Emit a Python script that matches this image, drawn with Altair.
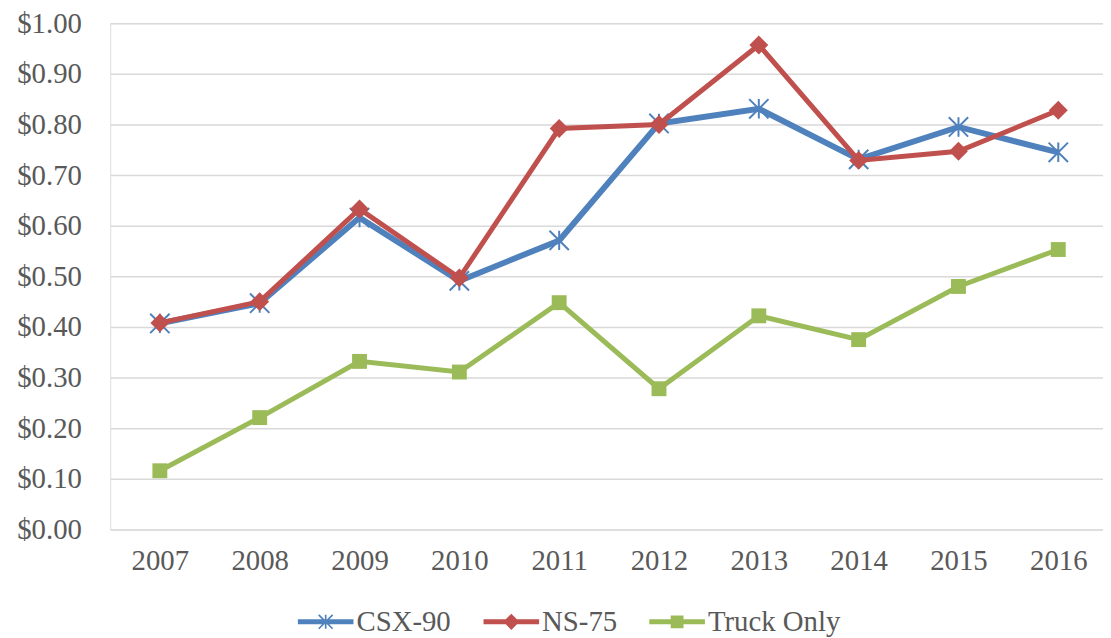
import altair as alt
import pandas as pd

years = ["2007", "2008", "2009", "2010", "2011", "2012", "2013", "2014", "2015", "2016"]
csx_90 = [0.407, 0.447, 0.616, 0.491, 0.571, 0.802, 0.831, 0.731, 0.795, 0.745]
ns_75 = [0.408, 0.450, 0.633, 0.497, 0.792, 0.800, 0.957, 0.729, 0.747, 0.828]
truck_only = [0.116, 0.221, 0.332, 0.311, 0.448, 0.278, 0.422, 0.375, 0.480, 0.553]
series_names = ["CSX-90", "NS-75", "Truck Only"]
colors = ["#4F81BD", "#C0504D", "#9BBB59"]

rows = []
for name, vals in zip(series_names, [csx_90, ns_75, truck_only]):
    for y, v in zip(years, vals):
        rows.append({"year": y, "series": name, "value": v})
df = pd.DataFrame(rows)
legend_df = pd.DataFrame({"series": series_names})

FONT = "Liberation Serif"
TXT = "#595959"

# ---- legend symbol paths (line + marker); symbol box = 56px, unit = 28px ----
def fmt(pts):
    return "M" + "L".join(f"{x:.4f},{y:.4f}" for x, y in pts) + "Z"

def bar(p1, p2, h):
    dx, dy = p2[0] - p1[0], p2[1] - p1[1]
    L = (dx * dx + dy * dy) ** 0.5
    nx, ny = dy / L * h, -dx / L * h
    return fmt([(p1[0] + nx, p1[1] + ny), (p2[0] + nx, p2[1] + ny),
                (p2[0] - nx, p2[1] - ny), (p1[0] - nx, p1[1] - ny)])

a = 0.25
line_part = fmt([(-1, -0.09), (1, -0.09), (1, 0.09), (-1, 0.09)])
ast = (bar((-a, -a), (a, a), 0.03) + bar((a, -a), (-a, a), 0.03) + bar((0, -a), (0, a), 0.03))
dia = fmt([(-0.29, 0), (0, -0.29), (0.29, 0), (0, 0.29)])
sq = fmt([(-0.23, -0.23), (0.23, -0.23), (0.23, 0.23), (-0.23, 0.23)])
legend_paths = [line_part + ast, line_part + dia, line_part + sq]

x_enc = alt.X("year:O", sort=years,
              scale=alt.Scale(type="point", padding=0.4724, align=0.526),
              axis=alt.Axis(title=None, labelAngle=0, ticks=False, domain=False,
                            labelFont=FONT, labelFontSize=29, labelColor=TXT,
                            labelPadding=17, grid=False))
y_enc = alt.Y("value:Q",
              scale=alt.Scale(domain=[0, 1], nice=False, zero=True),
              axis=alt.Axis(title=None, format="$.2f", values=[i / 10 for i in range(11)],
                            ticks=False, domain=False, labelFont=FONT, labelFontSize=29,
                            labelColor=TXT, labelPadding=29, grid=True,
                            gridColor="#D9D9D9", gridWidth=1.5))

base = alt.Chart(df).encode(x=x_enc, y=y_enc)

marker_specs = [
    dict(shape="M-1,-1L1,1M-1,1L1,-1M0,-1L0,1", filled=False, size=380, strokeWidth=2),
    dict(shape="diamond", filled=True, size=361),
    dict(shape="square", filled=True, size=225),
]
line_widths = [6, 5, 5]

layers = []
for name, col, lw, ms in zip(series_names, colors, line_widths, marker_specs):
    sub = base.transform_filter(alt.datum.series == name)
    layers.append(sub.mark_line(color=col, strokeWidth=lw))
    layers.append(sub.mark_point(color=col, opacity=1, **ms))

leg = alt.Legend(title=None, orient="none", legendX=189, legendY=575,
                 direction="horizontal", labelFont=FONT, labelFontSize=29,
                 labelColor=TXT, symbolSize=3136, labelOffset=3,
                 columnPadding=32, symbolOpacity=1, symbolStrokeWidth=0)

legend_layer = alt.Chart(legend_df).mark_point(filled=True, opacity=0).encode(
    color=alt.Color("series:N", scale=alt.Scale(domain=series_names, range=colors),
                    legend=leg, sort=series_names),
    shape=alt.Shape("series:N", scale=alt.Scale(domain=series_names, range=legend_paths),
                    legend=leg, sort=series_names),
)

chart = alt.layer(*layers, legend_layer).properties(
    width=1000, height=510,
    autosize=alt.AutoSizeParams(type="none"),
    padding={"left": 103, "top": 13, "right": 0, "bottom": 107},
).configure_view(stroke=None).configure(background="white")

chart.save("out.html", embed_options={"renderer": "svg", "actions": False})
